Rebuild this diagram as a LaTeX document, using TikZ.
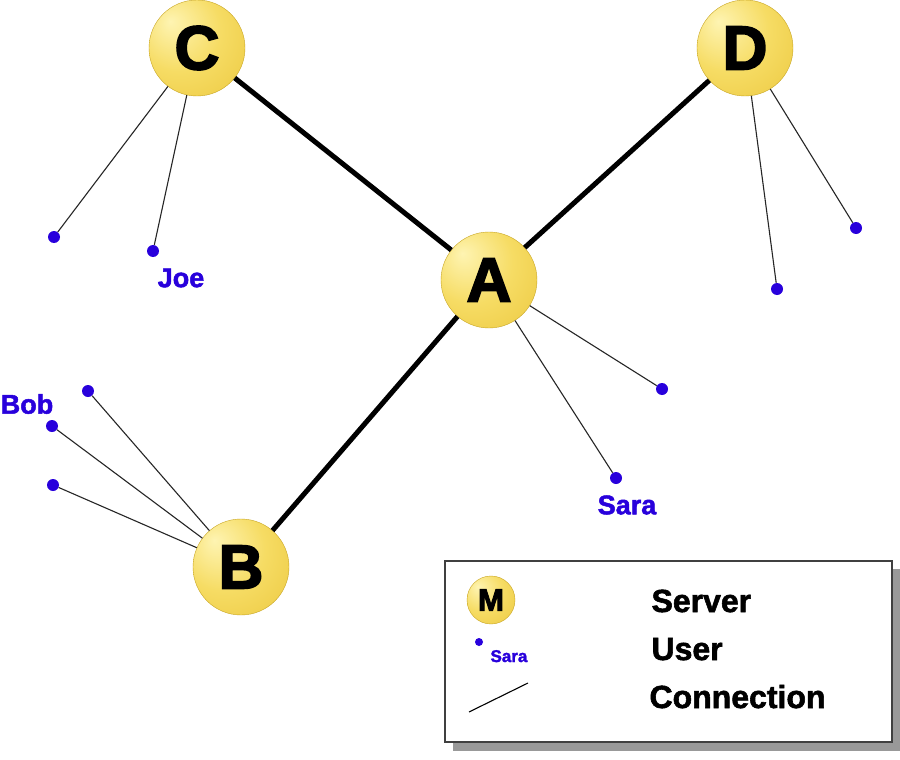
\documentclass[tikz,border=0pt]{standalone}
\usepackage{fontspec}
\setmainfont{Liberation Sans}
\newfontfamily\heavy[FakeBold=3]{Liberation Sans Bold}
\newfontfamily\bolder[FakeBold=1.8]{Liberation Sans Bold}
\definecolor{userblue}{RGB}{40,0,220}
\definecolor{goldedge}{RGB}{222,184,40}
\definecolor{goldc}{RGB}{254,244,178}
\definecolor{goldm}{RGB}{246,220,100}
\definecolor{golde}{RGB}{234,196,56}
\pgfdeclareradialshading{srvshade}{\pgfpoint{-14bp}{14bp}}{%
  color(0bp)=(goldc);
  color(22bp)=(goldm);
  color(50bp)=(golde);
  color(70bp)=(goldedge)}
\tikzset{
  server/.style={circle, shading=srvshade, draw=goldedge!90!black, line width=0.4pt,
    minimum size=#1, inner sep=0pt, font=\heavy},
  server/.default=96pt,
  user/.style={circle, fill=userblue, inner sep=0pt, minimum size=12pt},
  uname/.style={text=userblue, font=\bolder\fontsize{27}{27}\selectfont},
  trunk/.style={line width=5pt},
  link/.style={line width=1.1pt, draw=black!85},
  legtext/.style={anchor=base west, font=\bolder\fontsize{32}{32}\selectfont}
}
\begin{document}
\begin{tikzpicture}[x=1pt,y=-1pt]
\useasboundingbox (0,0) rectangle (900,760);
\fill[white] (0,0) rectangle (900,760);
% servers
\node[server] (C) at (197,48) {\fontsize{62}{62}\selectfont C};
\node[server] (D) at (745,48) {\fontsize{62}{62}\selectfont D};
\node[server] (A) at (489,280) {\fontsize{62}{62}\selectfont A};
\node[server] (B) at (241,567) {\fontsize{62}{62}\selectfont B};
% users
\node[user] (c1) at (54,237) {};
\node[user] (c2) at (153,251) {};
\node[user] (d1) at (777,289) {};
\node[user] (d2) at (856,228) {};
\node[user] (a1) at (662,389) {};
\node[user] (a2) at (616,478) {};
\node[user] (b1) at (88,391) {};
\node[user] (b2) at (52,426) {};
\node[user] (b3) at (53,485) {};
% labels
\node[uname] (joe) at (181,278) {Joe};
\node[uname] (sara) at (627,505) {Sara};
\node[uname] (bob) at (27,404) {Bob};
% connections
\draw[trunk] (C) -- (A);
\draw[trunk] (D) -- (A);
\draw[trunk] (B) -- (A);
\draw[link] (C) -- (c1);
\draw[link] (C) -- (c2);
\draw[link] (D) -- (d1);
\draw[link] (D) -- (d2);
\draw[link] (A) -- (a1);
\draw[link] (A) -- (a2);
\draw[link] (B) -- (b1);
\draw[link] (B) -- (b2);
\draw[link] (B) -- (b3);
% legend
\fill[black!40] (453,569) rectangle (900,751);
\node[draw=black!75, line width=1.5pt, fill=white, minimum width=447pt, minimum height=181pt,
  inner sep=0pt, anchor=north west] (legend) at (444,560) {};
\node[server=48pt] (M) at (491,600) {\fontsize{31}{31}\selectfont M};
\node[user, minimum size=8pt] (lu) at (479,642) {};
\node[anchor=base west, text=userblue, font=\bolder\fontsize{17}{17}\selectfont] (lsara) at (487,662) {Sara};
\coordinate (l1) at (469,712);
\coordinate (l2) at (528,683);
\draw[line width=1.1pt] (l1) -- (l2);
\node[legtext] (tserver) at (648,612) {Server};
\node[legtext] (tuser) at (648,660) {User};
\node[legtext] (tconn) at (646,708) {Connection};
\end{tikzpicture}
\end{document}
